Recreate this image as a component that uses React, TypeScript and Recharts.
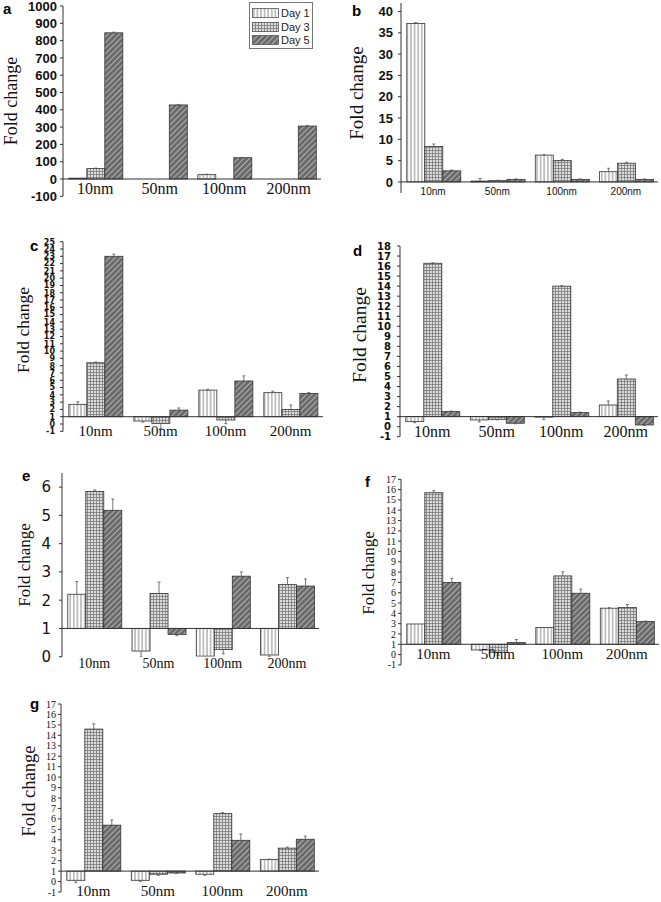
import React from 'react';
import { BarChart, Bar, XAxis, YAxis, ReferenceLine } from 'recharts';

const categories = ['10nm', '50nm', '100nm', '200nm'];
const seriesNames = ['Day 1', 'Day 3', 'Day 5'];
const patternIds = ['pDay1', 'pDay3', 'pDay5'];

// panel a
const aDay1 = [5, 0, 25, 0];
const aDay3 = [60, 0, 0, 0];
const aDay5 = [845, 428, 123, 306];
const aErr1 = [0, 0, 3, 0];
const aErr3 = [3, 0, 0, 0];
const aErr5 = [4, 3, 2, 3];
const aTicks = [-100, 0, 100, 200, 300, 400, 500, 600, 700, 800, 900, 1000];

// panel b
const bDay1 = [37.2, 0.2, 6.3, 2.4];
const bDay3 = [8.3, 0.3, 5.0, 4.4];
const bDay5 = [2.6, 0.6, 0.6, 0.6];
const bErr1 = [0.2, 0.6, 0.1, 0.8];
const bErr3 = [0.6, 0.1, 0.3, 0.2];
const bErr5 = [0.2, 0.1, 0.1, 0.1];
const bTicks = [0, 5, 10, 15, 20, 25, 30, 35, 40];

// panel c
const cDay1 = [2.7, 0.41, 4.65, 4.3];
const cDay3 = [8.4, 0.09, 0.55, 2.0];
const cDay5 = [23.0, 1.9, 5.9, 4.2];
const cErr1 = [0.35, 0.15, 0.1, 0.2];
const cErr3 = [0.1, 0.7, 0.5, 0.6];
const cErr5 = [0.3, 0.3, 0.7, 0.1];
const cTicks = [-1, 0, 1, 2, 3, 4, 5, 6, 7, 8, 9, 10, 11, 12, 13, 14, 15, 16, 17, 18, 19, 20, 21, 22, 23, 24, 25];

// panel d
const dDay1 = [0.5, 0.67, 0.95, 2.16];
const dDay3 = [16.28, 0.73, 14.0, 4.75];
const dDay5 = [1.5, 0.34, 1.4, 0.17];
const dErr1 = [0.1, 0.2, 0.25, 0.4];
const dErr3 = [0.05, 0.05, 0.05, 0.4];
const dErr5 = [0.05, 0.05, 0.05, 0.05];
const dTicks = [-1, 0, 1, 2, 3, 4, 5, 6, 7, 8, 9, 10, 11, 12, 13, 14, 15, 16, 17, 18];

// panel e
const eDay1 = [2.21, 0.2, 0.02, 0.06];
const eDay3 = [5.85, 2.24, 0.25, 2.55];
const eDay5 = [5.18, 0.79, 2.85, 2.5];
const eErr1 = [0.45, 0.2, 0.15, 0.05];
const eErr3 = [0.05, 0.4, 0.15, 0.25];
const eErr5 = [0.4, 0.05, 0.15, 0.25];
const eTicks = [0, 1, 2, 3, 4, 5, 6];

// panel f
const fDay1 = [2.97, 0.45, 2.62, 4.5];
const fDay3 = [15.7, 0.22, 7.63, 4.56];
const fDay5 = [7.0, 1.16, 5.95, 3.2];
const fErr1 = [0, 0.05, 0, 0.05];
const fErr3 = [0.2, 0.3, 0.4, 0.3];
const fErr5 = [0.4, 0.3, 0.4, 0.05];
const fTicks = [-1, 0, 1, 2, 3, 4, 5, 6, 7, 8, 9, 10, 11, 12, 13, 14, 15, 16, 17];

// panel g
const gDay1 = [0.12, 0.12, 0.7, 2.1];
const gDay3 = [14.6, 0.7, 6.5, 3.2];
const gDay5 = [5.4, 0.82, 3.95, 4.05];
const gErr1 = [0.2, 0.1, 0.1, 0.05];
const gErr3 = [0.5, 0.1, 0.1, 0.1];
const gErr5 = [0.5, 0.05, 0.6, 0.3];
const gTicks = [-1, 0, 1, 2, 3, 4, 5, 6, 7, 8, 9, 10, 11, 12, 13, 14, 15, 16, 17];

const buildRows = (d1: number[], d3: number[], d5: number[], e1: number[], e3: number[], e5: number[]) =>
  categories.map((name, i) => ({ name, d1: d1[i], d3: d3[i], d5: d5[i], e1: e1[i], e3: e3[i], e5: e5[i] }));

const sans = '"Liberation Sans", Arial, sans-serif';
const serif = '"Liberation Serif", "Times New Roman", serif';
const dejavu = '"DejaVu Sans", Verdana, sans-serif';

const panels = [
  {
    id: 'a', left: 0, top: 0, w: 330, h: 215, L: 63, R: 321, T: 6, B: 196.3,
    domain: [-100, 1000], base: 0, ticks: aTicks,
    rows: buildRows(aDay1, aDay3, aDay5, aErr1, aErr3, aErr5),
    yTick: { fontFamily: sans, fontWeight: 700, fontSize: 13 }, tickMargin: 3,
    xTick: { fontFamily: serif, fontSize: 16, dy: -2.7 },
    letter: { x: 3, y: 15 }, label: { x: 10.5, y: 101, size: 18 },
  },
  {
    id: 'b', left: 330, top: 0, w: 331, h: 215, L: 401, R: 658, T: 3, B: 193,
    domain: [-2.6, 42], base: 0, ticks: bTicks,
    rows: buildRows(bDay1, bDay3, bDay5, bErr1, bErr3, bErr5),
    yTick: { fontFamily: sans, fontWeight: 700, fontSize: 13 }, tickMargin: 5,
    xTick: { fontFamily: sans, fontSize: 10, dy: 1.5 },
    letter: { x: 352, y: 17 }, label: { x: 356, y: 93, size: 19 },
  },
  {
    id: 'c', left: 0, top: 225, w: 330, h: 225, L: 63, R: 323, T: 241.7, B: 431.3,
    domain: [-1, 25], base: 1, ticks: cTicks,
    rows: buildRows(cDay1, cDay3, cDay5, cErr1, cErr3, cErr5),
    yTick: { fontFamily: dejavu, fontWeight: 700, fontSize: 8 }, tickMargin: 5,
    xTick: { fontFamily: serif, fontSize: 15, dy: 4.7 },
    letter: { x: 30, y: 252 }, label: { x: 24, y: 330, size: 17.5 },
  },
  {
    id: 'd', left: 330, top: 225, w: 331, h: 225, L: 400, R: 658, T: 246, B: 436.7,
    domain: [-1, 18], base: 1, ticks: dTicks,
    rows: buildRows(dDay1, dDay3, dDay5, dErr1, dErr3, dErr5),
    yTick: { fontFamily: dejavu, fontWeight: 700, fontSize: 10 }, tickMargin: 6,
    xTick: { fontFamily: serif, fontSize: 16, dy: 0 },
    letter: { x: 353, y: 257 }, label: { x: 359.5, y: 335, size: 19.5 },
  },
  {
    id: 'e', left: 0, top: 455, w: 330, h: 225, L: 62, R: 319, T: 473, B: 656.7,
    domain: [0, 6.5], base: 1, ticks: eTicks,
    rows: buildRows(eDay1, eDay3, eDay5, eErr1, eErr3, eErr5),
    yTick: { fontFamily: dejavu, fontWeight: 400, fontSize: 15 }, tickMargin: 8,
    xTick: { fontFamily: serif, fontSize: 14, dy: 11 },
    letter: { x: 22, y: 482 }, label: { x: 24, y: 565, size: 17 },
  },
  {
    id: 'f', left: 330, top: 455, w: 331, h: 225, L: 401, R: 659, T: 479.3, B: 664.9,
    domain: [-1, 17], base: 1, ticks: fTicks,
    rows: buildRows(fDay1, fDay3, fDay5, fErr1, fErr3, fErr5),
    yTick: { fontFamily: serif, fontWeight: 400, fontSize: 10 }, tickMargin: 2,
    xTick: { fontFamily: serif, fontSize: 15, dy: -6 },
    letter: { x: 365, y: 488 }, label: { x: 367.5, y: 573, size: 17 },
  },
  {
    id: 'g', left: 0, top: 690, w: 330, h: 212, L: 61, R: 319, T: 704, B: 892,
    domain: [-1, 17], base: 1, ticks: gTicks,
    rows: buildRows(gDay1, gDay3, gDay5, gErr1, gErr3, gErr5),
    yTick: { fontFamily: serif, fontWeight: 400, fontSize: 10 }, tickMargin: 2,
    xTick: { fontFamily: serif, fontSize: 15, dy: 4 },
    letter: { x: 30, y: 710 }, label: { x: 29, y: 791, size: 18.5 },
  },
];

const valueKeys = ['d1', 'd3', 'd5'] as const;
const errKeys = ['e1', 'e3', 'e5'] as const;

const makeShape = (key: string, errKey: string, base: number, span: number) => (props: any) => {
  const { x, y, width, height, fill, payload, background } = props;
  if (x == null || y == null) return null;
  const top = Math.min(y, y + height);
  const h = Math.abs(height);
  const v = payload[key];
  const err = payload[errKey] || 0;
  let ppu = background && background.height ? background.height / span : 0;
  if (!ppu && Math.abs(v - base) > 0.01) ppu = h / Math.abs(v - base);
  const up = v >= base;
  const tip = up ? top : top + h;
  const end = up ? tip - err * ppu : tip + err * ppu;
  const cx = x + width / 2;
  return (
    <g>
      {h > 0.2 && <rect x={x} y={top} width={width} height={h} fill={fill} stroke='#333' strokeWidth={0.8} />}
      {err > 0 && (
        <g stroke='#555' strokeWidth={0.8}>
          <line x1={cx} x2={cx} y1={tip} y2={end} />
          <line x1={cx - 1.5} x2={cx + 1.5} y1={end} y2={end} />
        </g>
      )}
    </g>
  );
};

const XTick = (props: any) => {
  const { x, y, payload, font } = props;
  return (
    <text x={x} y={y + font.dy} textAnchor='middle' fill='#111' fontFamily={font.fontFamily} fontSize={font.fontSize}>
      {payload.value}
    </text>
  );
};

const Panel = ({ p }: { p: (typeof panels)[number] }) => {
  const span = p.domain[1] - p.domain[0];
  return (
    <div style={{ position: 'absolute', left: p.left, top: p.top }}>
      <BarChart
        width={p.w}
        height={p.h}
        data={p.rows}
        margin={{ top: p.T - p.top, right: p.left + p.w - p.R, bottom: p.top + p.h - p.B - 1, left: 0 }}
        barCategoryGap='9%'
        barGap={0}
      >
        <XAxis
          dataKey='name'
          height={1}
          axisLine={false}
          tickLine={false}
          tickSize={0}
          tickMargin={0}
          interval={0}
          tick={(tp: any) => <XTick {...tp} font={p.xTick} />}
        />
        <YAxis
          type='number'
          width={p.L - p.left}
          domain={p.domain}
          ticks={p.ticks}
          interval={0}
          allowDataOverflow
          axisLine={{ stroke: '#333' }}
          tickLine={{ stroke: '#333' }}
          tickSize={3}
          tickMargin={p.tickMargin}
          tick={{ fill: '#111', ...p.yTick }}
        />
        <ReferenceLine y={p.base} stroke='#333' strokeWidth={1} />
        {valueKeys.map((k, i) => (
          <Bar
            key={k}
            dataKey={(r: any) => [p.base, r[k]]}
            name={seriesNames[i]}
            fill={`url(#${patternIds[i]})`}
            isAnimationActive={false}
            shape={makeShape(k, errKeys[i], p.base, span)}
          />
        ))}
      </BarChart>
      <div
        style={{
          position: 'absolute',
          left: p.label.x - p.left,
          top: p.label.y - p.top,
          transform: 'translate(-50%, -50%) rotate(-90deg)',
          fontFamily: serif,
          fontSize: p.label.size,
          lineHeight: 1,
          whiteSpace: 'nowrap',
          color: '#111',
        }}
      >
        Fold change
      </div>
      <div
        style={{
          position: 'absolute',
          left: p.letter.x - p.left,
          top: p.letter.y - p.top - 14,
          fontFamily: sans,
          fontWeight: 700,
          fontSize: 15,
          lineHeight: '15px',
          color: '#000',
        }}
      >
        {p.id}
      </div>
    </div>
  );
};

const Legend = () => (
  <div
    style={{
      position: 'absolute',
      left: 249,
      top: 2,
      width: 62,
      height: 45,
      border: '1px solid #777',
      background: '#fff',
      fontFamily: sans,
      fontSize: 11,
    }}
  >
    {seriesNames.map((name, i) => (
      <div key={name} style={{ position: 'absolute', left: 2, top: 5 + i * 13.5, height: 10, display: 'flex', alignItems: 'center' }}>
        <svg width={27} height={10}>
          <rect x={0.5} y={0.5} width={26} height={9} fill={`url(#${patternIds[i]})`} stroke='#555' strokeWidth={0.8} />
        </svg>
        <span style={{ marginLeft: 2, lineHeight: '10px', color: '#222' }}>{name}</span>
      </div>
    ))}
  </div>
);

const App = () => (
  <div style={{ position: 'absolute', left: 0, top: 0, width: 661, height: 902, background: '#fff', overflow: 'hidden' }}>
    <svg width={0} height={0} style={{ position: 'absolute' }}>
      <defs>
        <pattern id='pDay1' width={3.6} height={4} patternUnits='userSpaceOnUse'>
          <rect width={3.6} height={4} fill='#fff' />
          <line x1={1.8} y1={0} x2={1.8} y2={4} stroke='#666' strokeWidth={0.8} />
        </pattern>
        <pattern id='pDay3' width={3} height={3} patternUnits='userSpaceOnUse'>
          <rect width={3} height={3} fill='#dcdcdc' />
          <path d='M0 0.5H3M0.5 0V3' stroke='#707070' strokeWidth={0.7} />
        </pattern>
        <pattern id='pDay5' width={4} height={4} patternUnits='userSpaceOnUse' patternTransform='rotate(45)'>
          <rect width={4} height={4} fill='#6b6b6b' />
          <line x1={0.5} y1={0} x2={0.5} y2={4} stroke='#b0b0b0' strokeWidth={1} />
        </pattern>
      </defs>
    </svg>
    {panels.map(p => (
      <Panel key={p.id} p={p} />
    ))}
    <Legend />
  </div>
);

export default App;
